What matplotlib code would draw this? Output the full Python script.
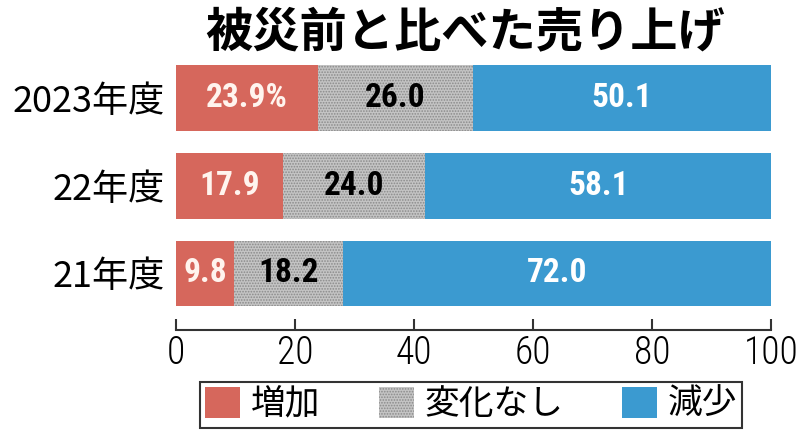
import matplotlib
matplotlib.use("Agg")
import matplotlib.pyplot as plt
from matplotlib.patches import Patch

plt.rcParams['font.family'] = ['Noto Sans CJK JP', 'DejaVu Sans']
plt.rcParams['hatch.linewidth'] = 0.8

years = ["21年度", "22年度", "2023年度"]
increase = [9.8, 17.9, 23.9]
nochange = [18.2, 24.0, 26.0]
decrease = [72.0, 58.1, 50.1]
series_names = ["増加", "変化なし", "減少"]
xticks = [0, 20, 40, 60, 80, 100]
title = "被災前と比べた売り上げ"

red = "#d6675c"
gray = "#c4c4c4"
blue = "#3b9ad0"

narrow = ['Roboto Condensed', 'DejaVu Sans']

fig = plt.figure(figsize=(8, 4.37), dpi=100)
ax = fig.add_axes([0.22, 0.245, 0.744, 0.629])

y = list(range(len(years)))
h = 0.75
ax.barh(y, increase, height=h, color=red, linewidth=0)
left2 = increase
ax.barh(y, nochange, left=left2, height=h, color=gray, hatch='......',
        edgecolor='#8a8a8a', linewidth=0)
left3 = [a + b for a, b in zip(increase, nochange)]
ax.barh(y, decrease, left=left3, height=h, color=blue, linewidth=0)

kw = dict(ha='center', va='center', fontsize=24, family=narrow, fontweight='bold')
for i in y:
    lab = f"{increase[i]:.1f}" + ("%" if i == len(years) - 1 else "")
    ax.text(increase[i] / 2, i, lab, color='#fff4ee', **kw)
    ax.text(left2[i] + nochange[i] / 2, i, f"{nochange[i]:.1f}", color='black', **kw)
    ax.text(left3[i] + decrease[i] / 2, i, f"{decrease[i]:.1f}", color='white', **kw)

ax.set_xlim(0, 100)
ax.set_ylim(-0.644, 2.49)
ax.set_yticks(y)
ax.set_yticklabels(years, fontsize=26)
ax.tick_params(axis='y', length=0, pad=8)
ax.set_xticks(xticks)
ax.set_xticklabels([str(t) for t in xticks], family=narrow, fontweight='light',
                   fontsize=27)
ax.tick_params(axis='x', direction='in', length=8, width=1.5, pad=3, color='#333333')
for s in ['top', 'right', 'left']:
    ax.spines[s].set_visible(False)
ax.spines['bottom'].set_linewidth(1.5)
ax.spines['bottom'].set_color('#333333')

fig.text(0.582, 0.925, title, ha='center', va='center', fontsize=34, fontweight='bold')

handles = [Patch(facecolor=red, linewidth=0),
           Patch(facecolor=gray, hatch='......', edgecolor='#8a8a8a', linewidth=0),
           Patch(facecolor=blue, linewidth=0)]
leg = fig.legend(handles, series_names, ncol=3, loc='center',
                 bbox_to_anchor=(0.589, 0.074), fontsize=25, frameon=True,
                 fancybox=False, edgecolor='black', handlelength=1.0,
                 handleheight=1.0, handletextpad=0.3, columnspacing=1.7,
                 borderpad=0.15, borderaxespad=0)
leg.get_frame().set_linewidth(1.5)

fig.savefig("out.png", dpi=100)
